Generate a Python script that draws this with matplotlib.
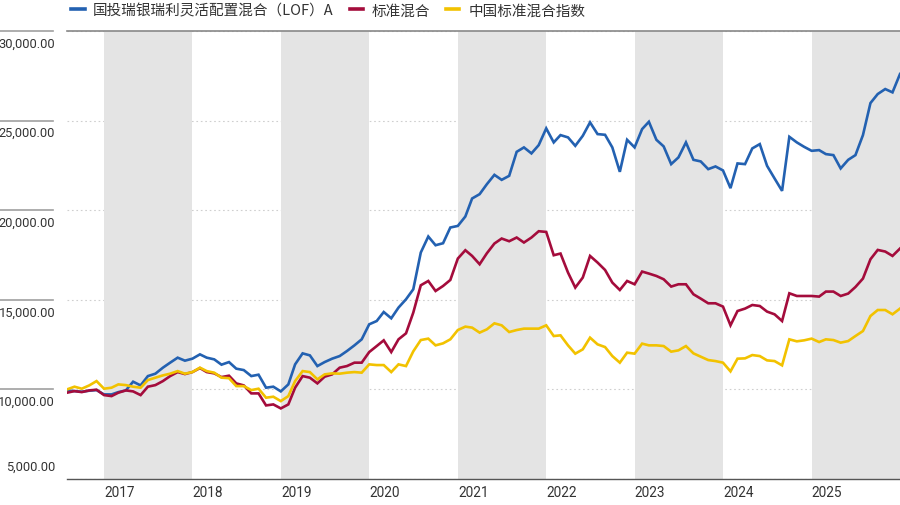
import numpy as np
import pandas as pd
import matplotlib
matplotlib.use('Agg')
import matplotlib.pyplot as plt
import matplotlib.transforms as mtransforms

# 月末净值（起始 10,000）
months = pd.date_range('2016-07-31', periods=114, freq='ME')

fund = [9944, 9905, 9871, 9927, 9961, 9721, 9721, 9849, 9944, 10430,
        10223, 10743, 10877, 11212, 11492, 11771, 11603, 11715, 11955, 11771,
        11676, 11380, 11525, 11157, 11078, 10743, 10821, 10095, 10151, 9888,
        10279, 11397, 12011, 11899, 11302, 11525, 11715, 11860, 12140, 12458,
        12794, 13632, 13816, 14319, 13967, 14565, 15028, 15587, 17637, 18531,
        18045, 18157, 19034, 19123, 19648, 20654, 20895, 21453, 21973, 21694,
        21917, 23258, 23504, 23169, 23632, 24565, 23783, 24191, 24063, 23593,
        24152, 24901, 24247, 24208, 23504, 22141, 23929, 23504, 24526, 24934,
        23929, 23560, 22571, 22945, 23783, 22811, 22722, 22291, 22442, 22219,
        21230, 22610, 22571, 23448, 23688, 22476, 21772, 21079, 24096, 23783,
        23537, 23314, 23353, 23130, 23074, 22331, 22811, 23074, 24191, 25979,
        26482, 26761, 26576, 27599]

std_mix = [9816, 9905, 9849, 9944, 9983, 9682, 9626, 9816, 9944, 9888,
           9682, 10151, 10240, 10464, 10743, 10967, 10855, 10967, 11190, 10967,
           10894, 10687, 10765, 10335, 10223, 9777, 9777, 9106, 9162, 8938,
           9162, 10095, 10743, 10654, 10335, 10710, 10838, 11212, 11302, 11492,
           11492, 12084, 12419, 12738, 12084, 12794, 13129, 14285, 15810, 16051,
           15492, 15771, 16107, 17302, 17766, 17448, 16984, 17598, 18140, 18419,
           18268, 18475, 18196, 18475, 18827, 18788, 17487, 17581, 16520, 15682,
           16241, 17448, 17079, 16665, 15961, 15548, 16051, 15866, 16576, 16464,
           16330, 16146, 15738, 15866, 15866, 15308, 15067, 14805, 14805, 14620,
           13576, 14375, 14509, 14710, 14654, 14341, 14190, 13816, 15364, 15213,
           15213, 15213, 15179, 15459, 15459, 15213, 15347, 15715, 16185, 17263,
           17783, 17693, 17448, 17861]

index_vals = [10000, 10151, 10039, 10223, 10464, 10039, 10095, 10279, 10240, 10151,
              10095, 10520, 10654, 10782, 10877, 11022, 10877, 10967, 11212, 11022,
              10933, 10654, 10626, 10184, 10184, 9961, 10039, 9536, 9592, 9346,
              9626, 10464, 11022, 10967, 10559, 10838, 10894, 10877, 10933, 10967,
              10933, 11397, 11358, 11358, 10967, 11397, 11302, 12123, 12754, 12833,
              12458, 12570, 12794, 13313, 13503, 13447, 13168, 13352, 13687, 13576,
              13201, 13313, 13391, 13391, 13391, 13576, 12978, 13017, 12458, 11995,
              12235, 12888, 12514, 12363, 11860, 11492, 12050, 11995, 12554, 12458,
              12458, 12419, 12106, 12179, 12419, 12011, 11827, 11637, 11581, 11492,
              11006, 11715, 11732, 11916, 11860, 11620, 11581, 11341, 12794, 12682,
              12738, 12833, 12643, 12794, 12754, 12609, 12698, 12978, 13257, 14095,
              14430, 14430, 14190, 14509]

series_names = ['国投瑞银瑞利灵活配置混合（LOF）A', '标准混合', '中国标准混合指数']
series_colors = ['#2361b1', '#a40c3c', '#f2c200']
y_ticks = [5000, 10000, 15000, 20000, 25000, 30000]
shade_years = [2017, 2019, 2021, 2023, 2025]
year_labels = ['2017', '2018', '2019', '2020', '2021', '2022', '2023', '2024', '2025']

cjk = ['Noto Sans CJK SC', 'DejaVu Sans']
narrow = ['Roboto', 'DejaVu Sans']
plt.rcParams['font.family'] = cjk

fig = plt.figure(figsize=(9, 5.06), dpi=100)
ax = fig.add_axes([67 / 900, 26 / 506, 833 / 900, 448 / 506])

for yr in shade_years:
    ax.axvspan(pd.Timestamp(f'{yr}-01-01'), pd.Timestamp(f'{yr}-12-31'),
               color='#e4e4e4', lw=0, zorder=1)

for vals, name, col in zip([fund, std_mix, index_vals], series_names, series_colors):
    ax.plot(months, vals, color=col, lw=1.9, label=name, zorder=3,
            solid_joinstyle='miter')

ax.set_xlim(months[0], months[-1])
ax.set_ylim(y_ticks[0], y_ticks[-1])

ax.set_yticks(y_ticks)
ax.set_yticklabels([])
ax.tick_params(axis='y', length=0)
ax.set_axisbelow(True)
ax.grid(axis='y', color='#cfcfcf', linestyle=(0, (1.5, 2.5)), lw=0.8)

ax.set_xticks([pd.Timestamp(f'{y}-01-01') for y in year_labels])
ax.set_xticklabels(year_labels, ha='left', fontsize=9.8, color='#333333',
                   family=narrow)
ax.tick_params(axis='x', length=0, pad=4)

for s in ['left', 'right']:
    ax.spines[s].set_visible(False)
ax.spines['bottom'].set_color('#555555')
ax.spines['bottom'].set_linewidth(1.0)
ax.spines['top'].set_color('#888888')
ax.spines['top'].set_linewidth(1.2)

# 左侧 y 轴标签和短线
ytrans = ax.get_yaxis_transform()
for v in y_ticks:
    if v == y_ticks[0]:
        off = mtransforms.offset_copy(ytrans, fig=fig, y=13, units='dots')
    else:
        off = mtransforms.offset_copy(ytrans, fig=fig, y=-12, units='dots')
        ax.plot([-67 / 833, -14 / 833], [v, v], transform=ytrans, color='#a0a0a0',
                lw=1.2, clip_on=False)
    ax.text(-12 / 833, v, f'{v:,.2f}', transform=off, ha='right', va='center',
            fontsize=9.3, color='#333333', family=narrow)

leg = ax.legend(loc='upper left', bbox_to_anchor=(67 / 900, 1.0), bbox_transform=fig.transFigure,
                ncol=3, frameon=False, fontsize=10.5, handlelength=0.9,
                handletextpad=0.6, columnspacing=1.1, borderaxespad=0.1,
                borderpad=0.2)
for t in leg.get_texts():
    t.set_color('#333333')
for h in leg.get_lines():
    h.set_linewidth(2.6)

fig.savefig('out.png', dpi=100)
